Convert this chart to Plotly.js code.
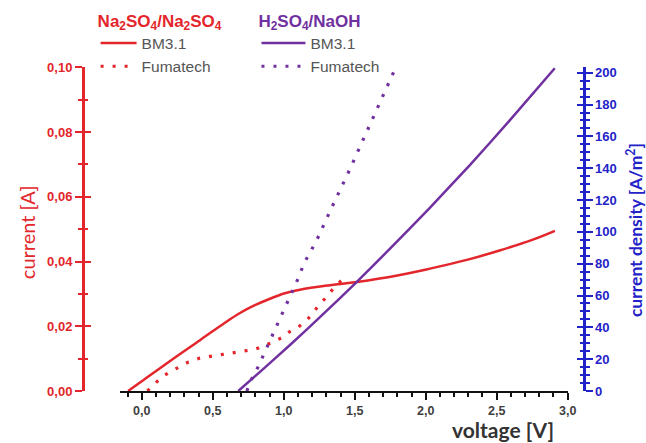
<!DOCTYPE html>
<html>
<head>
<meta charset="utf-8">
<script src="https://cdn.plot.ly/plotly-3.0.1.min.js"></script>
<style>html,body{margin:0;padding:0;background:#fff;}#chart{width:646px;height:443px;}</style>
</head>
<body>
<div id="chart"></div>
<script>
// Voltage [V] / current [A] readings
const naBM_V = [-0.096, 0.0, 0.2, 0.41, 0.586, 0.692, 0.797, 0.903, 1.008, 1.114, 1.325, 1.515, 1.8, 2.03, 2.29, 2.52, 2.75, 2.91];
const naBM_A = [0, 0.003, 0.0093, 0.0157, 0.0211, 0.0241, 0.0265, 0.0285, 0.0302, 0.0313, 0.0327, 0.0337, 0.0357, 0.0378, 0.0405, 0.0434, 0.0467, 0.0495];

const naFu_V = [0.04, 0.14, 0.2, 0.33, 0.41, 0.5, 0.6, 0.69, 0.8, 0.93, 1.0, 1.04, 1.1, 1.2, 1.24, 1.29, 1.36, 1.41];
const naFu_A = [0, 0.0043, 0.0059, 0.009, 0.0102, 0.0108, 0.0114, 0.0121, 0.0129, 0.0152, 0.0168, 0.0183, 0.0196, 0.0235, 0.0262, 0.0285, 0.0322, 0.0343];

const hBM_V = [0.68, 0.833, 1.044, 1.255, 1.515, 1.747, 2.029, 2.311, 2.592, 2.909];
const hBM_A = [0, 0.0059, 0.0142, 0.0228, 0.0337, 0.0439, 0.0566, 0.0698, 0.0836, 0.0997];

const hFu_V = [0.74, 0.78, 0.82, 0.86, 0.9, 0.94, 0.985, 1.067, 1.107, 1.142, 1.185, 1.227, 1.267, 1.306, 1.349, 1.45, 1.55, 1.65, 1.72, 1.783];
const hFu_A = [0, 0.0043, 0.0075, 0.0114, 0.0157, 0.0193, 0.0235, 0.0314, 0.0353, 0.0394, 0.0428, 0.0461, 0.0499, 0.0538, 0.0577, 0.067, 0.0767, 0.0864, 0.0932, 0.0994];

const seriesNames = ['BM3.1', 'Fumatech'];
const groupTitles = ['<b>Na<sub>2</sub>SO<sub>4</sub>/Na<sub>2</sub>SO<sub>4</sub></b>', '<b>H<sub>2</sub>SO<sub>4</sub>/NaOH</b>'];

const RED = '#e3262b', PURPLE = '#7130a0', BLUE = '#1f23c8', GRAY = '#555555';

const traces = [
  {x: naBM_V, y: naBM_A, name: seriesNames[0], mode: 'lines', line: {color: RED, width: 2.5, shape: 'spline', smoothing: 1.1}, legend: 'legend'},
  {x: naFu_V, y: naFu_A, name: seriesNames[1], mode: 'lines', line: {color: RED, width: 3.2, dash: '3px,9px'}, legend: 'legend'},
  {x: hBM_V, y: hBM_A, name: seriesNames[0], mode: 'lines', line: {color: PURPLE, width: 2.5, shape: 'spline', smoothing: 0.5}, legend: 'legend2'},
  {x: hFu_V, y: hFu_A, name: seriesNames[1], mode: 'lines', line: {color: PURPLE, width: 3.2, dash: '3px,9px'}, legend: 'legend2'},
  // invisible companions so that the scale-only axes are drawn
  {x: naBM_V, y: naBM_A, yaxis: 'y2', mode: 'lines', line: {color: 'rgba(0,0,0,0)'}, showlegend: false, hoverinfo: 'skip'},
  {x: naBM_V, y: naBM_A, yaxis: 'y3', mode: 'lines', line: {color: 'rgba(0,0,0,0)'}, showlegend: false, hoverinfo: 'skip'},
  {x: naBM_V, y: naBM_A, yaxis: 'y4', mode: 'lines', line: {color: 'rgba(0,0,0,0)'}, showlegend: false, hoverinfo: 'skip'}
];

const tickFontL = {family: 'Liberation Sans, Arial, sans-serif', size: 13, color: RED, weight: 'bold'};
const tickFontR = {family: 'Liberation Sans, Arial, sans-serif', size: 13, color: BLUE, weight: 'bold'};
const tickFontX = {family: 'Liberation Sans, Arial, sans-serif', size: 12.5, color: '#404040', weight: 'bold'};

const layout = {
  width: 646, height: 443,
  margin: {l: 83, r: 62, t: 67, b: 52, autoexpand: false},
  paper_bgcolor: '#ffffff', plot_bgcolor: 'rgba(0,0,0,0)',
  separators: ',.',
  showlegend: true,
  xaxis: {
    domain: [0.0739, 0.968], range: [-0.153, 3.002], anchor: 'y',
    showgrid: false, zeroline: false, showline: true, linecolor: '#111', linewidth: 2,
    ticks: 'outside', ticklen: 7, tickwidth: 2, tickcolor: '#111',
    dtick: 0.5, tick0: 0, tickformat: '.1f', tickfont: tickFontX,
    minor: {dtick: 0.1, tick0: 0, ticks: 'outside', ticklen: 4, tickwidth: 2, tickcolor: '#111', showgrid: false}
  },
  yaxis: {
    range: [0, 0.1001], anchor: 'free', position: 0, side: 'left',
    showgrid: false, zeroline: false, showline: true, linecolor: RED, linewidth: 2.5,
    ticks: 'outside', ticklen: 7, tickwidth: 2, tickcolor: RED,
    dtick: 0.02, tick0: 0, tickformat: '.2f', tickfont: tickFontL,
    minor: {dtick: 0.01, tick0: 0, ticks: 'outside', ticklen: 4, tickwidth: 2, tickcolor: RED, showgrid: false}
  },
  yaxis3: {
    range: [0, 0.1001], anchor: 'free', position: 0, side: 'left', overlaying: 'y',
    showgrid: false, zeroline: false, showline: false, showticklabels: false,
    ticks: 'inside', ticklen: 7, tickwidth: 2, tickcolor: RED, dtick: 0.02, tick0: 0,
    minor: {dtick: 0.01, tick0: 0, ticks: 'inside', ticklen: 4, tickwidth: 2, tickcolor: RED, showgrid: false}
  },
  yaxis2: {
    range: [0, 203.6], anchor: 'free', position: 1, side: 'right', overlaying: 'y',
    showgrid: false, zeroline: false, showline: true, linecolor: BLUE, linewidth: 2.5,
    ticks: 'outside', ticklen: 7, tickwidth: 2, tickcolor: BLUE,
    dtick: 20, tick0: 0, tickfont: tickFontR,
    minor: {dtick: 5, tick0: 0, ticks: 'outside', ticklen: 4, tickwidth: 2, tickcolor: BLUE, showgrid: false}
  },
  yaxis4: {
    range: [0, 203.6], anchor: 'free', position: 1, side: 'right', overlaying: 'y',
    showgrid: false, zeroline: false, showline: false, showticklabels: false,
    ticks: 'inside', ticklen: 7, tickwidth: 2, tickcolor: BLUE, dtick: 20, tick0: 0,
    minor: {dtick: 5, tick0: 0, ticks: 'inside', ticklen: 4, tickwidth: 2, tickcolor: BLUE, showgrid: false}
  },
  legend: {
    xref: 'container', yref: 'container', x: 0.148, y: 0.99, xanchor: 'left', yanchor: 'top',
    bgcolor: 'rgba(0,0,0,0)', borderwidth: 0, itemwidth: 36, tracegroupgap: 0,
    font: {family: 'Liberation Sans, Arial, sans-serif', size: 15.5, color: GRAY},
    title: {text: groupTitles[0], side: 'top', font: {family: 'Liberation Sans, Arial, sans-serif', size: 17, color: RED}}
  },
  legend2: {
    xref: 'container', yref: 'container', x: 0.397, y: 0.99, xanchor: 'left', yanchor: 'top',
    bgcolor: 'rgba(0,0,0,0)', borderwidth: 0, itemwidth: 44, tracegroupgap: 0,
    font: {family: 'Liberation Sans, Arial, sans-serif', size: 15.5, color: GRAY},
    title: {text: groupTitles[1], side: 'top', font: {family: 'Liberation Sans, Arial, sans-serif', size: 17, color: PURPLE}}
  },
  annotations: [
    {text: 'current [A]', xref: 'paper', yref: 'paper', x: -0.112, y: 0.49, textangle: -90,
     showarrow: false, xanchor: 'center', yanchor: 'middle',
     font: {family: 'Lato, sans-serif', size: 20, color: RED}},
    {text: 'current density [A/m<sup>2</sup>]', xref: 'paper', yref: 'paper', x: 1.102, y: 0.497, textangle: -90,
     showarrow: false, xanchor: 'center', yanchor: 'middle',
     font: {family: 'Lato, sans-serif', size: 17.5, color: BLUE, weight: 'bold'}},
    {text: 'voltage [V]', xref: 'paper', yref: 'paper', x: 0.838, y: -0.12,
     showarrow: false, xanchor: 'center', yanchor: 'middle',
     font: {family: 'Lato, sans-serif', size: 21, color: '#333333', weight: 'bold'}}
  ]
};

Plotly.newPlot('chart', traces, layout, {displayModeBar: false, staticPlot: true});
</script>
</body>
</html>
